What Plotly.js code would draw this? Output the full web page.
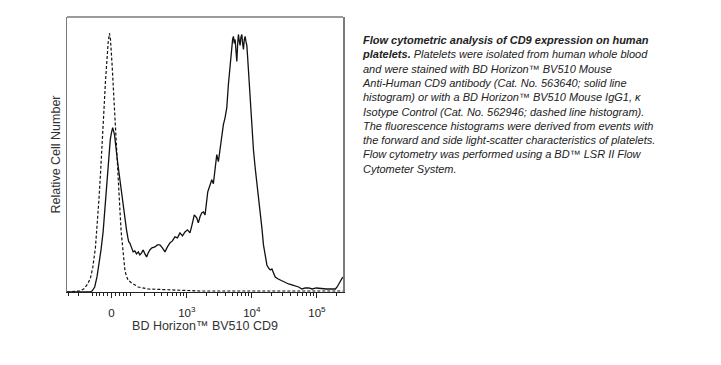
<!DOCTYPE html>
<html>
<head>
<meta charset="utf-8">
<script src="https://cdn.plot.ly/plotly-3.0.1.min.js"></script>
<style>html,body{margin:0;padding:0;background:#fff;}#chart{width:721px;height:365px;}</style>
</head>
<body>
<div id="chart"></div>
<script>
// Fluorescence intensity (BV510 CD9) and relative cell counts
const isotypeX = [-323,-193,-161,-132,-114,-100,-84,-74,-65,-56,-47,-39,-30,-22,-16,-10,-5,3,11,18,25,32,37,43,49,56,63,69,77,87,108,153,237,544,1600,9400,55600,250000];
const isotypeY = [0,1,3,8,14,24,44,66,90,117,144,177,210,237,250,258,252,227,194,170,144,120,100,80,60,44,30,22,16,12,9,5,3,2,1,1,1,1];

const cd9X = [-323,-119,-104,-88,-75,-62,-53,-42,-30,-21,-13,-6,0,6,15,21,28,37,45,55,63,71,78,86,91,97,107,118,129,141,154,165,179,192,207,222,237,254,276,310,341,375,412,453,497,544,596,653,715,783,856,937,1024,1121,1204,1306,1424,1507,1601,1703,1802,1914,2107,2286,2428,2570,2729,2899,3068,3259,3461,3663,3891,4132,4374,4646,4934,5076,5223,5393,5548,5707,5893,6063,6237,6439,6623,6814,7035,7238,7448,7686,7910,8134,8400,8645,8890,9443,10031,10612,11277,11977,12677,13461,14301,15127,16072,17073,18067,19194,20384,21574,22911,25487,29064,32669,36736,41426,46571,52353,59073,66402,74648,85120,98070,120050,139860,171150,192430,204400,217840,229740,250110];
const cd9Y = [0,0,1,5,15,29,42,60,90,114,137,152,159,164,157,144,134,120,107,95,84,72,62,54,50,49,45,40,41,38,40,37,39,42,38,35,39,42,44,45,47,47,44,40,45,49,51,55,54,59,56,60,62,59,67,77,74,69,75,79,80,77,100,107,112,108,122,137,130,144,152,167,174,184,207,227,247,252,255,248,252,237,230,247,257,250,246,254,257,248,242,252,255,250,246,234,220,194,167,142,124,110,94,77,64,47,36,27,24,22,23,19,15,13,11,9,8,7,6,5,3,4,4,3,4,3,3,3,3,5,8,10,15];

const majorTickValues = [0, 1000, 10000, 100000];
const majorTickLabels = ['0', '10<sup>3</sup>', '10<sup>4</sup>', '10<sup>5</sup>'];
const minorTickValues = [-300,-200,-100,-80,-60,-40,-20,20,40,60,80,100,200,300,400,500,600,700,800,900,2000,3000,4000,5000,6000,7000,8000,9000,20000,30000,40000,50000,60000,70000,80000,90000,200000];
const axisMin = -323, axisMax = 252000;

const captionLines = [
  '<b>Flow cytometric analysis of CD9 expression on human</b>',
  '<b>platelets.</b> Platelets were isolated from human whole blood',
  'and were stained with BD Horizon™ BV510 Mouse',
  'Anti-Human CD9 antibody (Cat. No. 563640; solid line',
  'histogram) or with a BD Horizon™ BV510 Mouse IgG1, κ',
  'Isotype Control (Cat. No. 562946; dashed line histogram).',
  'The fluorescence histograms were derived from events with',
  'the forward and side light-scatter characteristics of platelets.',
  'Flow cytometry was performed using a BD™ LSR II Flow',
  'Cytometer System.'
];

// biexponential-like display transform (arcsinh)
const cofactor = 140;
const tf = v => Math.asinh(v / cofactor);

const Wd = 721, Ht = 365;
const mg = {l: 67, r: 378, t: 17, b: 73};
const pw = Wd - mg.l - mg.r, ph = Ht - mg.t - mg.b;
const px2x = p => (p - mg.l) / pw;
const px2y = p => (Ht - mg.b - p) / ph;

const font = 'Liberation Sans, Arial, sans-serif';

const traces = [
  {x: isotypeX.map(tf), y: isotypeY, type: 'scatter', mode: 'lines',
   line: {color: '#111', width: 1.2, dash: '3px,2px'}, hoverinfo: 'skip'},
  {x: cd9X.map(tf), y: cd9Y, type: 'scatter', mode: 'lines',
   line: {color: '#111', width: 1.3}, hoverinfo: 'skip'}
];

const layout = {
  width: Wd, height: Ht,
  margin: mg,
  paper_bgcolor: '#fff', plot_bgcolor: '#fff',
  showlegend: false,
  font: {family: font, color: '#222'},
  xaxis: {
    range: [tf(axisMin), tf(axisMax)],
    showgrid: false, zeroline: false,
    showline: true, linecolor: '#222', linewidth: 1.3,
    ticks: 'outside', ticklen: 5, tickwidth: 1, tickcolor: '#222',
    tickmode: 'array', tickvals: majorTickValues.map(tf), ticktext: majorTickLabels,
    tickfont: {size: 11.5, color: '#222', family: font},
    ticklabelstandoff: 5,
    minor: {tickmode: 'array', tickvals: minorTickValues.map(tf), ticks: 'outside', ticklen: 3, tickwidth: 1, tickcolor: '#222', showgrid: false},
    title: {text: 'BD Horizon™ BV510 CD9', font: {size: 12.5, color: '#333', family: font}, standoff: 1},
    fixedrange: true
  },
  yaxis: {
    range: [0, 274.4],
    showgrid: false, zeroline: false,
    showline: true, mirror: true, linecolor: '#7a7a7a', linewidth: 1.5,
    ticks: '', showticklabels: false,
    title: {text: 'Relative Cell Number', font: {size: 12.5, color: '#333', family: font}, standoff: 2},
    fixedrange: true
  },
  shapes: [
    {type: 'line', xref: 'paper', yref: 'paper', x0: 0, x1: 1, y0: 1, y1: 1, line: {color: '#7a7a7a', width: 1.5}}
  ],
  annotations: [
    {xref: 'paper', yref: 'paper', x: px2x(360), y: px2y(32), xanchor: 'left', yanchor: 'top',
     align: 'left', showarrow: false,
     text: '<i>' + captionLines.join('<br>') + '</i>',
     font: {size: 11, color: '#222', family: font}}
  ]
};

Plotly.newPlot('chart', traces, layout, {displayModeBar: false, staticPlot: true});
</script>
</body>
</html>
